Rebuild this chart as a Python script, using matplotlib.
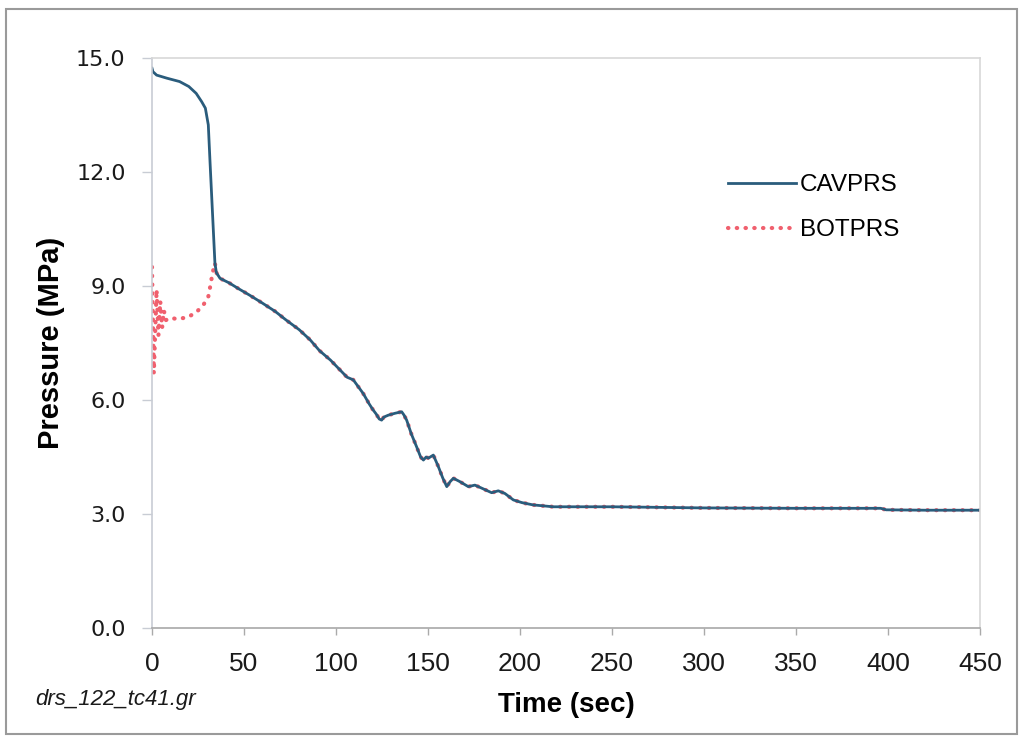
import numpy as np
import matplotlib
import matplotlib.pyplot as plt
from matplotlib.patches import Rectangle
matplotlib.use('Agg')

# Cavity pressure (MPa) vs time (sec)
cav_time = [0, 0.5, 2.5, 8, 15, 20, 24, 27, 29, 30.6, 31.5, 33, 34.2, 35, 37,
            42, 47, 53, 60, 67, 73, 80, 86, 91, 97, 101, 106, 109.4, 114.8,
            118, 120, 122, 123.5, 124.8, 126, 128.4, 132, 135.7, 137, 138.4,
            141, 143.8, 146, 147.5, 149, 150.2, 152.9, 155.6, 158, 160.2,
            162, 163.8, 167.4, 171.9, 175.5, 179.2, 184.6, 188.2, 191.8,
            196.4, 201, 207, 218, 230, 250, 267, 300, 350, 396, 399, 420, 450]
cav_pres = [14.73, 14.64, 14.55, 14.47, 14.38, 14.25, 14.07, 13.85, 13.68,
            13.24, 12.3, 10.8, 9.6, 9.35, 9.2, 9.08, 8.93, 8.76, 8.55, 8.33,
            8.1, 7.85, 7.58, 7.3, 7.05, 6.85, 6.6, 6.53, 6.17, 5.9, 5.75,
            5.62, 5.5, 5.47, 5.55, 5.6, 5.65, 5.69, 5.6, 5.47, 5.1, 4.77,
            4.5, 4.42, 4.5, 4.47, 4.55, 4.25, 3.95, 3.72, 3.85, 3.94, 3.85,
            3.72, 3.76, 3.68, 3.56, 3.61, 3.54, 3.37, 3.3, 3.24, 3.19, 3.19,
            3.19, 3.18, 3.16, 3.15, 3.15, 3.11, 3.1, 3.1]

# Bottom pressure before it joins the cavity curve at ~34 s
bot_time_early = [0, 1.0, 2.5, 3.5, 4.5, 5.5, 6.5, 7.5, 9.8, 14, 19.6, 24.3,
                  27.9, 30.6, 31.5, 32.4, 33.3]
bot_pres_early = [9.5, 6.7, 8.9, 7.7, 8.6, 7.9, 8.35, 8.1, 8.16, 8.13, 8.18,
                  8.32, 8.5, 8.72, 8.95, 9.2, 9.42]

cav_time = np.array(cav_time)
cav_pres = np.array(cav_pres)
join = cav_time >= 34.2
bot_time = np.concatenate([bot_time_early, cav_time[join]])
bot_pres = np.concatenate([bot_pres_early, cav_pres[join]])

plt.rcParams['font.family'] = ['Liberation Sans', 'DejaVu Sans']

fig = plt.figure(figsize=(10.21, 7.38), dpi=100)
ax = fig.add_axes([152/1021, 1 - 628/738, (980 - 152)/1021, (628 - 58)/738])

ax.plot(bot_time, bot_pres, color='#f0606e', lw=3.0,
        linestyle=(0, (0.1, 2.0)), dash_capstyle='round', label='BOTPRS')
ax.plot(cav_time, cav_pres, color='#2a5c7c', lw=2.0, label='CAVPRS')

ax.set_xlim(0, 450)
ax.set_ylim(0, 15)
ax.set_xticks(np.arange(0, 451, 50))
ax.set_yticks(np.arange(0, 15.1, 3))
ax.set_yticklabels(['%.1f' % v for v in np.arange(0, 15.1, 3)],
                   family='DejaVu Sans', fontsize=16, color='#1a1a1a')
ax.tick_params(axis='x', labelsize=19, length=5, width=1, color='#aaaaaa',
               pad=12, labelcolor='#1a1a1a')
ax.tick_params(axis='y', length=7, width=1, color='#c8ccd4', pad=12)

for side in ['top', 'right']:
    ax.spines[side].set_color('#d8d8d8')
ax.spines['left'].set_color('#c8ccd4')
ax.spines['bottom'].set_color('#a8a8a8')
for s in ax.spines.values():
    s.set_linewidth(1.2)

ax.set_xlabel('Time (sec)', fontsize=20, fontweight='bold', labelpad=12)
ax.set_ylabel('Pressure (MPa)', fontsize=21, fontweight='bold', labelpad=8)

handles, labels = ax.get_legend_handles_labels()
leg = ax.legend(handles[::-1], labels[::-1], loc='upper left',
                bbox_to_anchor=(728/1021, 1 - 174/738),
                bbox_transform=fig.transFigure, frameon=False, fontsize=17.5,
                handlelength=2.8, handletextpad=0.15, labelspacing=0.95,
                borderpad=0, borderaxespad=0)

fig.text(35/1021, 1 - 700/738, 'drs_122_tc41.gr', fontsize=16,
         style='italic', va='center', ha='left', color='#1a1a1a')

# grey frame round the whole chart
fig.patches.append(Rectangle((6/1021, 4/738), 1011/1021, 725/738,
                             transform=fig.transFigure, fill=False,
                             edgecolor='#9a9a9a', lw=1.5))

fig.savefig('out.png', dpi=100)
